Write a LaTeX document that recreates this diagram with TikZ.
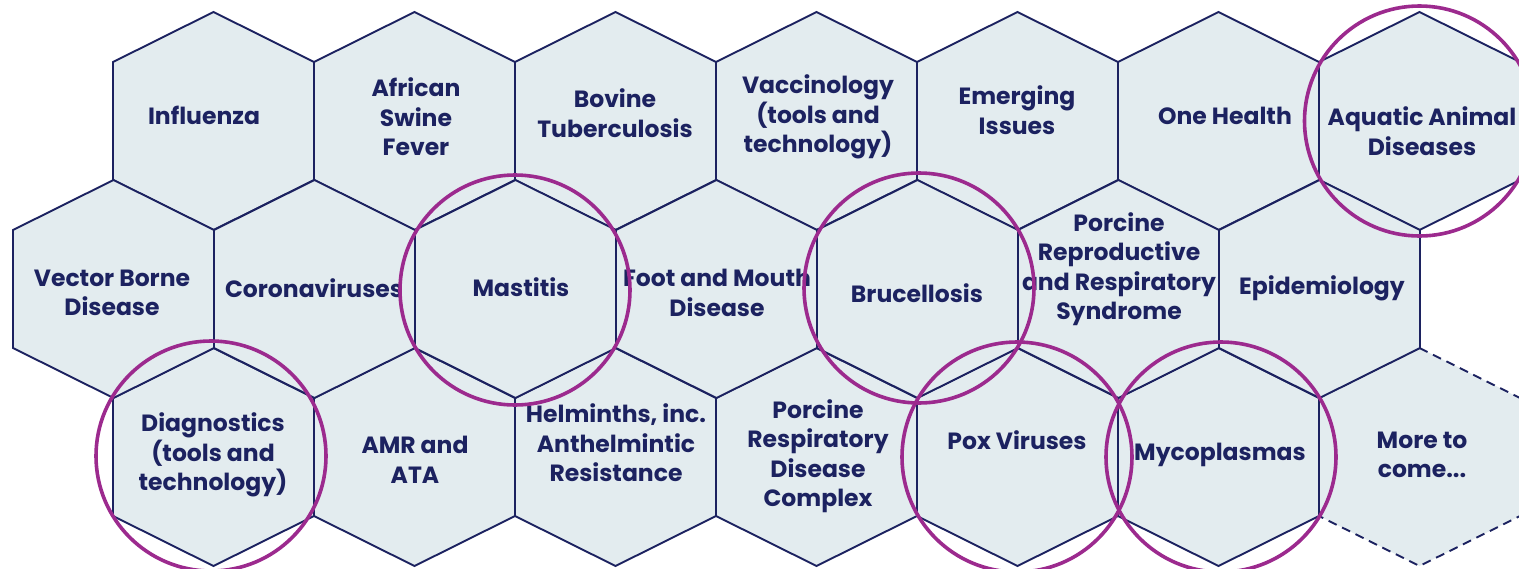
\documentclass[tikz,border=0pt]{standalone}
\usepackage{fontspec}
\setmainfont{Poppins}
\definecolor{navy}{RGB}{28,34,96}
\definecolor{cellfill}{RGB}{227,236,239}
\definecolor{purple}{RGB}{156,42,142}

\begin{document}
\begin{tikzpicture}[x=1pt, y=-1pt,
    hexcell/.style={draw=navy, fill=cellfill, line width=1.9pt, line join=miter},
    hexlabel/.style={text=navy, align=center, font=\fontsize{23.5}{29.5}\selectfont\bfseries, inner sep=0pt},
    ring/.style={draw=purple, line width=3.6pt}]
    \useasboundingbox (0,0) rectangle (1519,568);

    % placeholder cell, dashed
    \draw[hexcell, dashed, dash pattern=on 9pt off 6pt] (1419.5,348) -- (1520,398) -- (1520,516) -- (1419.5,566) -- (1319,516) -- (1319,398) -- cycle;

    % honeycomb, three rows
    \foreach \cy in {121, 457} {
        \foreach \k in {0,...,6} {
            \pgfmathsetmacro\cx{213.5 + 201*\k}
            \ifnum\k=6 \ifnum\cy=457 \else
                \draw[hexcell] (\cx,\cy-109) -- (\cx+100.5,\cy-59) -- (\cx+100.5,\cy+59) -- (\cx,\cy+109) -- (\cx-100.5,\cy+59) -- (\cx-100.5,\cy-59) -- cycle;
            \fi \else
                \draw[hexcell] (\cx,\cy-109) -- (\cx+100.5,\cy-59) -- (\cx+100.5,\cy+59) -- (\cx,\cy+109) -- (\cx-100.5,\cy+59) -- (\cx-100.5,\cy-59) -- cycle;
            \fi
        }
    }
    \foreach \k in {0,...,6} {
        \pgfmathsetmacro\cx{113.5 + 201*\k}
        \draw[hexcell] (\cx,180) -- (\cx+100.5,230) -- (\cx+100.5,348) -- (\cx,398) -- (\cx-100.5,348) -- (\cx-100.5,230) -- cycle;
    }

    % labels
    \foreach \x/\y/\nm/\txt in {
        204/115/influenza/{Influenza},
        416/117/asf/{African\\Swine\\Fever},
        615/113/btb/{Bovine\\Tuberculosis},
        818/117/vacc/{Vaccinology\\(tools and\\technology)},
        1017/110/emerg/{Emerging\\Issues},
        1225/116/onehealth/{One Health},
        1422/131/aquatic/{Aquatic Animal\\Diseases},
        112/293/vbd/{Vector Borne\\Disease},
        314/288/corona/{Coronaviruses},
        521/287/mastitis/{Mastitis},
        717/293/fmd/{Foot and Mouth\\Disease},
        917/293/bruc/{Brucellosis},
        1119/269/prrs/{Porcine\\Reproductive\\and Respiratory\\Syndrome},
        1322/288/epi/{Epidemiology},
        213/455/diag/{Diagnostics\\(tools and\\technology)},
        415/460/amr/{AMR and\\ATA},
        616/443/helm/{Helminths, inc.\\Anthelmintic\\Resistance},
        818/456/prdc/{Porcine\\Respiratory\\Disease\\Complex},
        1017/440/pox/{Pox Viruses},
        1220/455/myco/{Mycoplasmas},
        1422/455/more/{More to\\come...}} {
        \node[hexlabel] (\nm) at (\x,\y) {\txt};
    }

    % highlighted topics
    \foreach \x/\y in {1419.5/121, 515/290, 919/288, 211/456, 1017/457, 1221/457} {
        \draw[ring] (\x,\y) circle (115);
    }
\end{tikzpicture}
\end{document}
